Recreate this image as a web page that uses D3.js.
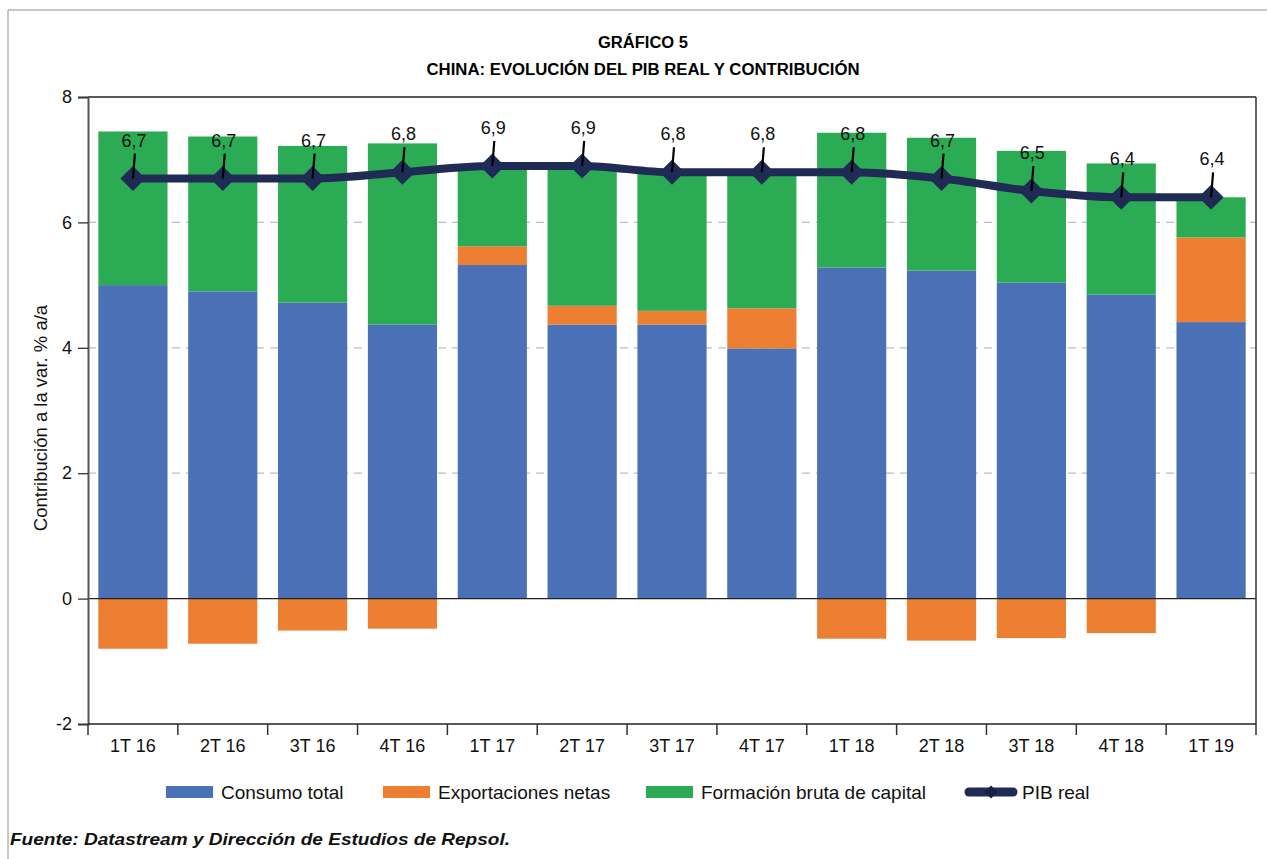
<!DOCTYPE html>
<html>
<head>
<meta charset="utf-8">
<script src="https://cdn.jsdelivr.net/npm/d3@7"></script>
<style>
  body { margin: 0; background: #fff; }
  text { font-family: "Liberation Sans", Arial, sans-serif; }
</style>
</head>
<body>
<svg id="chart" width="1267" height="859"></svg>
<script>
// datos
var quarters = ["1T 16", "2T 16", "3T 16", "4T 16", "1T 17", "2T 17", "3T 17", "4T 17", "1T 18", "2T 18", "3T 18", "4T 18", "1T 19"];
var consumo = [5.0, 4.9, 4.72, 4.37, 5.32, 4.37, 4.37, 3.99, 5.28, 5.23, 5.04, 4.85, 4.41];
var exportaciones = [-0.8, -0.72, -0.51, -0.48, 0.3, 0.3, 0.22, 0.64, -0.64, -0.67, -0.63, -0.55, 1.35];
var formacion = [2.45, 2.47, 2.5, 2.89, 1.26, 2.2, 2.19, 2.15, 2.15, 2.12, 2.1, 2.09, 0.64];
var pib = [6.7, 6.7, 6.7, 6.8, 6.9, 6.9, 6.8, 6.8, 6.8, 6.7, 6.5, 6.4, 6.4];
var yTicks = [-2, 0, 2, 4, 6, 8];
var seriesNames = ["Consumo total", "Exportaciones netas", "Formación bruta de capital", "PIB real"];

var colors = { consumo: "#4a70b5", export: "#ed7f33", formacion: "#2bab54", pib: "#1f2a55" };

var svg = d3.select("#chart");
var margin = { left: 88, right: 11, top: 97, bottom: 135 };
var W = 1267, H = 859;

// marco exterior
svg.append("line").attr("x1", 8).attr("x2", W).attr("y1", 10).attr("y2", 10)
  .attr("stroke", "#b5b5b5").attr("stroke-width", 1.5);
svg.append("line").attr("x1", 8).attr("x2", 8).attr("y1", 10).attr("y2", H)
  .attr("stroke", "#b5b5b5").attr("stroke-width", 1.5);

// titulos
svg.append("text").attr("x", 643).attr("y", 48).attr("text-anchor", "middle")
  .attr("font-size", 16).attr("font-weight", "bold")
  .attr("textLength", 90).attr("lengthAdjust", "spacingAndGlyphs")
  .text("GRÁFICO 5");
svg.append("text").attr("x", 643).attr("y", 75).attr("text-anchor", "middle")
  .attr("font-size", 16).attr("font-weight", "bold")
  .attr("textLength", 433).attr("lengthAdjust", "spacingAndGlyphs")
  .text("CHINA: EVOLUCIÓN DEL PIB REAL Y CONTRIBUCIÓN");

var x = d3.scaleBand().domain(quarters).range([margin.left, W - margin.right]).paddingInner(0.23).paddingOuter(0.115);
var y = d3.scaleLinear().domain([-2, 8]).range([H - margin.bottom, margin.top]);

// rejilla
svg.append("g").selectAll("line").data(yTicks.filter(function (d) { return d > 0 && d < 8; }))
  .enter().append("line")
  .attr("x1", margin.left).attr("x2", W - margin.right)
  .attr("y1", function (d) { return y(d); }).attr("y2", function (d) { return y(d); })
  .attr("stroke", "#bdbdbd").attr("stroke-width", 1.3).attr("stroke-dasharray", "8,6");

// barras apiladas
var rows = quarters.map(function (q, i) {
  return { q: q, consumo: consumo[i], export: exportaciones[i], formacion: formacion[i] };
});
var keys = ["consumo", "export", "formacion"];
var stack = d3.stack().keys(keys).offset(d3.stackOffsetDiverging);
var layers = stack(rows);

svg.append("g").selectAll("g").data(layers).enter().append("g")
  .attr("fill", function (d) { return colors[d.key]; })
  .selectAll("rect").data(function (d) { return d; }).enter().append("rect")
  .attr("x", function (d) { return x(d.data.q); })
  .attr("width", x.bandwidth())
  .attr("y", function (d) { return y(Math.max(d[0], d[1])); })
  .attr("height", function (d) { return Math.abs(y(d[0]) - y(d[1])); });

// linea cero
svg.append("line").attr("x1", margin.left).attr("x2", W - margin.right)
  .attr("y1", y(0)).attr("y2", y(0)).attr("stroke", "#222").attr("stroke-width", 1.3);

// borde superior y derecho
svg.append("line").attr("x1", margin.left).attr("x2", W - margin.right)
  .attr("y1", y(8)).attr("y2", y(8)).attr("stroke", "#222").attr("stroke-width", 1.3);
svg.append("line").attr("x1", W - margin.right).attr("x2", W - margin.right)
  .attr("y1", y(8)).attr("y2", y(-2)).attr("stroke", "#333").attr("stroke-width", 1.5);

// eje Y
var yAxis = svg.append("g").attr("transform", "translate(" + margin.left + ",0)")
  .call(d3.axisLeft(y).tickValues(yTicks).tickSize(10).tickPadding(6)
    .tickFormat(function (d) { return String(d); }));
yAxis.select(".domain").attr("stroke", "#555").attr("stroke-width", 2);
yAxis.selectAll(".tick line").attr("stroke", "#333").attr("stroke-width", 1.3);
yAxis.selectAll(".tick text").attr("font-size", 18).attr("fill", "#111")
  .style("font-family", "Liberation Sans, Arial, sans-serif");

// eje X
var xAxisG = svg.append("g").attr("transform", "translate(0," + y(-2) + ")");
xAxisG.append("line").attr("x1", margin.left).attr("x2", W - margin.right)
  .attr("stroke", "#222").attr("stroke-width", 1.5);
var bounds = d3.range(quarters.length + 1).map(function (i) { return margin.left + i * (W - margin.right - margin.left) / quarters.length; });
xAxisG.selectAll(".tk").data(bounds).enter().append("line")
  .attr("x1", function (d) { return d; }).attr("x2", function (d) { return d; })
  .attr("y1", 0).attr("y2", 11).attr("stroke", "#333").attr("stroke-width", 1.5);
xAxisG.selectAll(".lbl").data(quarters).enter().append("text")
  .attr("x", function (d) { return x(d) + x.bandwidth() / 2; })
  .attr("y", 28).attr("text-anchor", "middle").attr("font-size", 18).attr("fill", "#111")
  .text(function (d) { return d; });

// titulo eje Y
svg.append("text").attr("transform", "translate(47,418) rotate(-90)")
  .attr("text-anchor", "middle").attr("font-size", 18.5).attr("fill", "#111")
  .text("Contribución a la var. % a/a");

// linea PIB
var cx = function (i) { return x(quarters[i]) + x.bandwidth() / 2; };
var line = d3.line().x(function (d, i) { return cx(i); }).y(function (d) { return y(d); })
  .curve(d3.curveMonotoneX);
svg.append("path").datum(pib).attr("d", line).attr("fill", "none")
  .attr("stroke", colors.pib).attr("stroke-width", 8).attr("stroke-linejoin", "round");

svg.append("g").selectAll("path").data(pib).enter().append("path")
  .attr("d", d3.symbol().type(d3.symbolDiamond2).size(400))
  .attr("transform", function (d, i) { return "translate(" + cx(i) + "," + y(d) + ")"; })
  .attr("fill", colors.pib);

// etiquetas con lineas guia
var fmt = function (v) { return d3.format(".1f")(v).replace(".", ","); };
svg.append("g").selectAll("line").data(pib).enter().append("line")
  .attr("x1", function (d, i) { return cx(i); }).attr("y1", function (d) { return y(d); })
  .attr("x2", function (d, i) { return cx(i) + 2; }).attr("y2", function (d) { return y(d) - 25; })
  .attr("stroke", "#000").attr("stroke-width", 2.2);
svg.append("g").selectAll("text").data(pib).enter().append("text")
  .attr("x", function (d, i) { return cx(i) + 1; }).attr("y", function (d) { return y(d) - 32; })
  .attr("text-anchor", "middle").attr("font-size", 18).attr("fill", "#111")
  .text(fmt);

// leyenda
var legendItems = [
  { name: seriesNames[0], color: colors.consumo, x: 166 },
  { name: seriesNames[1], color: colors.export, x: 383 },
  { name: seriesNames[2], color: colors.formacion, x: 646 },
  { name: seriesNames[3], color: colors.pib, x: 965, line: true }
];
var lg = svg.append("g").selectAll("g").data(legendItems).enter().append("g")
  .attr("transform", function (d) { return "translate(" + d.x + ",792)"; });
lg.filter(function (d) { return !d.line; }).append("rect")
  .attr("x", 0).attr("y", -6).attr("width", 47).attr("height", 12)
  .attr("fill", function (d) { return d.color; });
var lgl = lg.filter(function (d) { return d.line; });
lgl.append("line").attr("x1", 4).attr("x2", 48).attr("y1", 0).attr("y2", 0)
  .attr("stroke", colors.pib).attr("stroke-width", 9).attr("stroke-linecap", "round");
lgl.append("path").attr("d", d3.symbol().type(d3.symbolDiamond2).size(110))
  .attr("transform", "translate(26,0)").attr("fill", "#1a2140");
lg.append("text").attr("x", function (d) { return d.line ? 57 : 55; }).attr("y", 6.5)
  .attr("font-size", 19).attr("fill", "#111").text(function (d) { return d.name; });

// fuente
svg.append("text").attr("x", 10).attr("y", 845).attr("font-size", 16.5)
  .attr("font-weight", "bold").attr("font-style", "italic").attr("fill", "#111")
  .attr("textLength", 500).attr("lengthAdjust", "spacingAndGlyphs")
  .text("Fuente: Datastream y Dirección de Estudios de Repsol.");
</script>
</body>
</html>
